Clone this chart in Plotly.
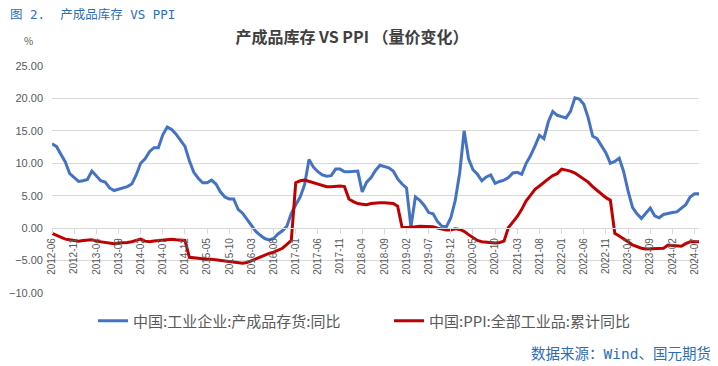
import plotly.graph_objects as go

# ---- data ----
months = []
for yr in range(2012, 2025):
    for mo in range(1, 13):
        s = f"{yr}-{mo:02d}"
        if "2012-06" <= s <= "2024-08":
            months.append(s)

tick_labels = months[::5]

inventory_yoy = [
    13.0, 12.6, 11.4, 10.2, 8.4, 7.8, 7.2, 7.3, 7.5, 8.8,
    8.1, 7.3, 7.1, 6.2, 5.8, 6.0, 6.2, 6.4, 6.8, 8.2,
    10.0, 10.7, 11.8, 12.4, 12.4, 14.4, 15.6, 15.2, 14.5, 13.6,
    12.6, 10.4, 8.6, 7.7, 7.0, 7.0, 7.4, 6.8, 5.6, 4.8,
    4.5, 4.5, 2.9, 2.3, 1.4, 0.5, -0.5, -1.1, -1.6, -1.8,
    -1.6, -0.9, -0.4, 0.3, 2.3, 3.6, 4.8, 6.7, 10.6, 9.4,
    8.7, 8.2, 8.0, 8.1, 9.1, 9.1, 8.7, 8.7, 8.7, 8.8,
    5.6, 7.1, 7.8, 8.9, 9.7, 9.5, 9.3, 8.8, 7.6, 6.8,
    6.2, 0.2, 4.8, 4.3, 3.5, 2.4, 2.2, 1.0, 0.3, 0.2,
    1.6, 4.3, 8.5, 15.0, 10.7, 9.0, 8.3, 7.3, 7.9, 8.2,
    6.9, 7.2, 7.4, 7.8, 8.5, 8.6, 8.3, 10.0, 11.2, 12.7,
    14.3, 13.8, 16.4, 18.0, 17.4, 17.2, 17.0, 18.0, 20.1, 19.9,
    19.1, 17.0, 14.2, 13.8, 12.6, 11.6, 10.0, 10.3, 10.8, 8.7,
    5.7, 3.2, 2.2, 1.5, 2.3, 3.1, 1.9, 1.6, 2.1, 2.3,
    2.4, 2.5, 3.1, 3.6, 4.8, 5.3, 5.3,
]

ppi_cum_yoy = [
    -0.8, -1.1, -1.4, -1.7, -1.8, -1.9, -2.0, -1.9, -1.8, -1.8,
    -2.0, -2.1, -2.3, -2.4, -2.4, -2.3, -2.3, -2.2, -2.1, -1.9,
    -1.7, -2.0, -2.1, -2.0, -1.9, -1.8, -1.7, -1.7, -1.8, -1.8,
    -1.9, -4.5, -4.6, -4.7, -4.7, -4.8, -4.8, -4.9, -5.0, -5.1,
    -5.2, -5.3, -5.4, -5.4, -5.3, -5.0, -4.7, -4.4, -4.2, -3.9,
    -3.7, -3.4, -3.1, -2.5, -1.9, 7.0, 7.3, 7.4, 7.2, 7.0,
    6.7, 6.5, 6.4, 6.4, 6.5, 6.5, 6.4, 4.5, 4.1, 3.8,
    3.7, 3.6, 3.8, 3.9, 3.9, 3.9, 3.9, 3.8, 3.4, 0.1,
    0.1, 0.1, 0.2, 0.3, 0.3, 0.3, 0.2, 0.0, -0.2, -0.3,
    -0.3, -0.1, -0.2, -0.5, -1.0, -1.4, -1.9, -2.1, -2.2, -2.3,
    -2.3, -2.2, -2.0, 0.1, 0.9, 1.8, 2.9, 4.2, 5.1, 6.0,
    6.5, 7.1, 7.6, 8.1, 8.4, 9.1, 9.0, 8.8, 8.5, 8.0,
    7.6, 7.1, 6.4, 5.8, 5.2, 4.7, 4.3, -0.8, -1.2, -1.6,
    -2.1, -2.6, -2.9, -3.1, -3.2, -3.2, -3.2, -3.2, -3.1, -2.6,
    -2.7, -2.8, -2.8, -2.4, -2.1, -2.1, -2.1,
]

series_names = ["中国:工业企业:产成品存货:同比", "中国:PPI:全部工业品:累计同比"]
y_ticks = [25, 20, 15, 10, 5, 0, -5, -10]

# ---- figure ----
FONT = "Noto Sans CJK SC"
MONO = "DejaVu Sans Mono, Noto Sans CJK SC"
GRAY = "#595959"
BLUE_TXT = "#2E6DB4"
OFF = 8          # page body margin
W, H = 718 - OFF, 366 - OFF

fig = go.Figure()
fig.add_trace(go.Scatter(x=months, y=inventory_yoy, mode="lines", name=series_names[0],
                         line=dict(color="#4472C4", width=3)))
fig.add_trace(go.Scatter(x=months, y=ppi_cum_yoy, mode="lines", name=series_names[1],
                         line=dict(color="#C00000", width=3)))

zero_frac = (0 - (-10)) / (25 - (-10))

# plot area in screen pixels: x 52..699, y 66..293
PL, PR, PT, PB = 52, 699, 66, 293

def px_x(px):
    return (px - PL) / float(PR - PL)

def px_y(py):
    return (PB - py) / float(PB - PT)

def cx(px):
    return (px - OFF) / float(W)

def cy(py):
    return 1 - (py - OFF) / float(H)

fig.update_layout(
    width=W, height=H,
    margin=dict(l=PL - OFF, r=W - (PR - OFF), t=PT - OFF, b=H - (PB - OFF), autoexpand=False),
    paper_bgcolor="white", plot_bgcolor="white",
    font=dict(family=FONT, color=GRAY),
    showlegend=True,
    legend=dict(orientation="h", xref="container", yref="container",
                x=cx(93), y=cy(321), xanchor="left", yanchor="middle",
                font=dict(size=15, color=GRAY, family=FONT),
                itemwidth=30,
                entrywidth=251, entrywidthmode="pixels",
                bgcolor="rgba(0,0,0,0)"),
    title=dict(text="产成品库存 VS PPI （量价变化）", xref="container", yref="container",
               x=cx(352), y=cy(37), xanchor="center", yanchor="middle",
               font=dict(size=16, color="#404040", family=FONT, weight="bold")),
    xaxis=dict(type="category", range=[0, len(months) - 1],
               tickmode="array", tickvals=tick_labels, ticktext=tick_labels,
               tickangle=-90, tickfont=dict(size=10, color=GRAY, family="Liberation Sans"),
               showgrid=False, showline=True, linecolor="#D9D9D9", linewidth=1,
               ticks="outside", ticklen=5, tickcolor="#D9D9D9",
               anchor="free", position=zero_frac, zeroline=False, automargin=False),
    yaxis=dict(range=[-10, 25], tickvals=y_ticks, tickformat=".2f",
               tickfont=dict(size=11, color=GRAY, family="Liberation Sans"),
               gridcolor="#D9D9D9", gridwidth=1, zeroline=False, showline=False,
               ticks="", ticklabelstandoff=8, automargin=False),
)

fig.add_annotation(text="%", xref="paper", yref="paper", x=px_x(28), y=px_y(40),
                   xanchor="center", yanchor="middle",
                   showarrow=False, font=dict(size=10, color=GRAY))
fig.add_annotation(text="图 2.  产成品库存 VS PPI", xref="paper", yref="paper",
                   x=px_x(8), y=px_y(14.5), xanchor="left", yanchor="middle",
                   showarrow=False, font=dict(size=12.5, color=BLUE_TXT, family=MONO))
fig.add_annotation(text="数据来源：Wind、国元期货", xref="paper", yref="paper",
                   x=px_x(713), y=px_y(354), xanchor="right", yanchor="middle",
                   showarrow=False, font=dict(size=14.5, color=BLUE_TXT, family=MONO))

fig.write_html("out.html")
